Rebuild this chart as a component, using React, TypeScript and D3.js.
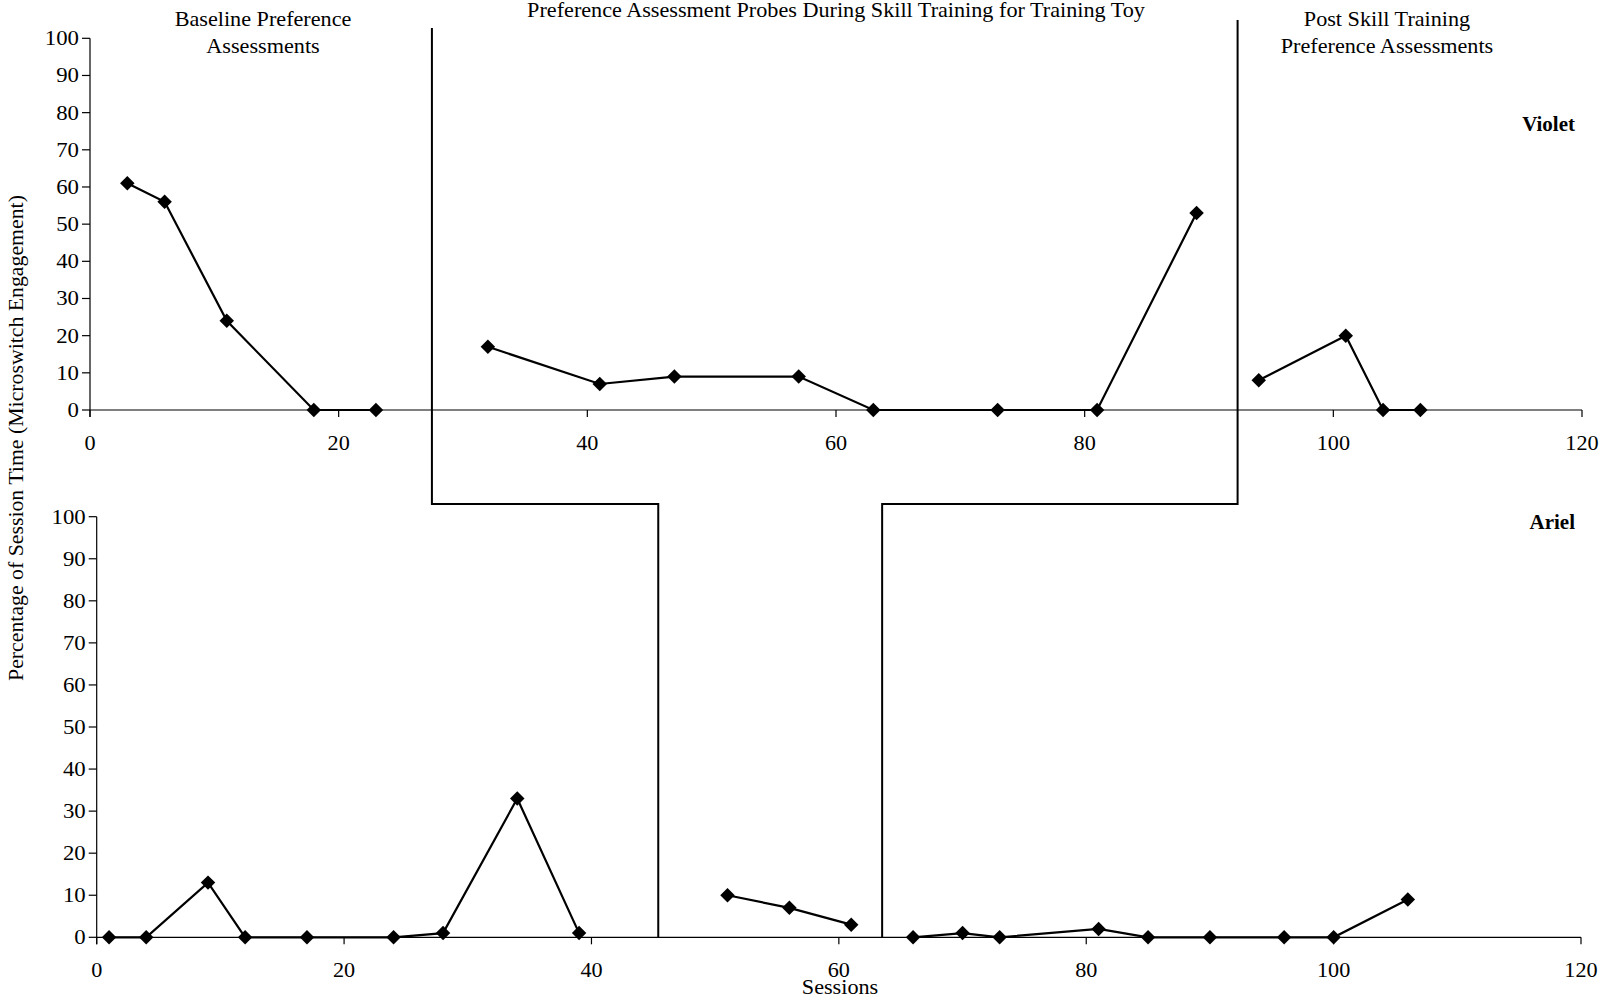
import React from "react";
import * as d3 from "d3";

// ---------- DATA ----------
const xTicks = [0, 20, 40, 60, 80, 100, 120];
const yTicks = [0, 10, 20, 30, 40, 50, 60, 70, 80, 90, 100];

// Violet (top panel)
const violetBaselineX = [3, 6, 11, 18, 23];
const violetBaselineY = [61, 56, 24, 0, 0];
const violetTrainingX = [32, 41, 47, 57, 63, 73, 81, 89];
const violetTrainingY = [17, 7, 9, 9, 0, 0, 0, 53];
const violetPostX = [94, 101, 104, 107];
const violetPostY = [8, 20, 0, 0];
const violetPhaseChanges = [27.5, 92.3];

// Ariel (bottom panel)
const arielBaselineX = [1, 4, 9, 12, 17, 24, 28, 34, 39];
const arielBaselineY = [0, 0, 13, 0, 0, 0, 1, 33, 1];
const arielTrainingX = [51, 56, 61];
const arielTrainingY = [10, 7, 3];
const arielPostX = [66, 70, 73, 81, 85, 90, 96, 100, 106];
const arielPostY = [0, 1, 0, 2, 0, 0, 0, 0, 9];
const arielPhaseChanges = [45.4, 63.5];

const phaseTitles = {
  baseline: ["Baseline Preference", "Assessments"],
  training: ["Preference Assessment Probes During Skill Training for Training Toy"],
  post: ["Post Skill Training", "Preference Assessments"],
};

// ---------- LAYOUT ----------
const W = 1600;
const H = 997;
const FONT = "'Liberation Serif', 'Times New Roman', serif";
const FS = 20;
const SX = 1.11;

const topX = d3.scaleLinear().domain([0, 120]).range([90, 1582]);
const topY = d3.scaleLinear().domain([0, 100]).range([410, 38.3]);
const botX = d3.scaleLinear().domain([0, 120]).range([96.7, 1581]);
const botY = d3.scaleLinear().domain([0, 100]).range([937.3, 516.7]);

const JUNCTION_Y = 504;
const PHASE_TOPS = [28, 20];

const zip = (xs: number[], ys: number[]) => xs.map((x, i) => [x, ys[i]] as [number, number]);

function Txt(props: {
  x: number; y: number; anchor?: string; bold?: boolean; rotate?: boolean; sx?: number; children: React.ReactNode;
}) {
  const { x, y, anchor = "middle", bold, rotate, sx = SX, children } = props;
  return (
    <text
      transform={`translate(${x},${y})${rotate ? " rotate(-90)" : ""} scale(${sx},1)`}
      textAnchor={anchor}
      fontFamily={FONT}
      fontSize={FS}
      fontWeight={bold ? "bold" : "normal"}
      fill="#000"
    >
      {children}
    </text>
  );
}

function Panel(props: {
  xs: d3.ScaleLinear<number, number>;
  ys: d3.ScaleLinear<number, number>;
  series: [number, number][][];
}) {
  const { xs, ys, series } = props;
  const line = d3.line<[number, number]>().x((d) => xs(d[0])).y((d) => ys(d[1]));
  const diamond = d3.symbol().type(d3.symbolSquare).size(105)() as string;
  const x0 = xs(0);
  const y0 = ys(0);
  return (
    <g>
      {/* y axis */}
      <line x1={x0} x2={x0} y1={ys(100)} y2={y0 + 7} stroke="#000" strokeWidth={1.2} />
      {yTicks.map((t) => (
        <g key={"y" + t}>
          <line x1={x0 - 8} x2={x0} y1={ys(t)} y2={ys(t)} stroke="#000" strokeWidth={1.2} />
          <Txt x={x0 - 11} y={ys(t) + 7} anchor="end" sx={1.14}>{t}</Txt>
        </g>
      ))}
      {/* x axis */}
      <line x1={x0} x2={xs(120)} y1={y0} y2={y0} stroke="#000" strokeWidth={1.2} />
      {xTicks.map((t) => (
        <line key={"x" + t} x1={xs(t)} x2={xs(t)} y1={y0} y2={y0 + 7} stroke="#000" strokeWidth={1.2} />
      ))}
      {series.map((s, i) => (
        <path key={"s" + i} d={line(s) || ""} fill="none" stroke="#000" strokeWidth={2.2} />
      ))}
      {series.flat().map((d, i) => (
        <path key={"m" + i} d={diamond} transform={`translate(${xs(d[0])},${ys(d[1])}) rotate(45)`} fill="#000" />
      ))}
    </g>
  );
}

export default function App() {
  const violetSeries = [
    zip(violetBaselineX, violetBaselineY),
    zip(violetTrainingX, violetTrainingY),
    zip(violetPostX, violetPostY),
  ];
  const arielSeries = [
    zip(arielBaselineX, arielBaselineY),
    zip(arielTrainingX, arielTrainingY),
    zip(arielPostX, arielPostY),
  ];

  // phase change lines (stepped across panels)
  const phasePaths = violetPhaseChanges.map((vx, i) => {
    const ax = arielPhaseChanges[i];
    return `M${topX(vx)},${PHASE_TOPS[i]} V${JUNCTION_Y} H${botX(ax)} V${botY(0)}`;
  });

  return (
    <svg width={W} height={H} style={{ position: "absolute", left: 0, top: 0, background: "#fff" }}>
      <rect width={W} height={H} fill="#fff" />
      <Panel xs={topX} ys={topY} series={violetSeries} />
      <Panel xs={botX} ys={botY} series={arielSeries} />
      {phasePaths.map((d, i) => (
        <path key={"p" + i} d={d} fill="none" stroke="#000" strokeWidth={2} />
      ))}

      {/* x tick labels */}
      {xTicks.map((t) => (
        <Txt key={"tx" + t} x={topX(t)} y={450}>{t}</Txt>
      ))}
      {xTicks.map((t) => (
        <Txt key={"bx" + t} x={botX(t)} y={977}>{t}</Txt>
      ))}

      {/* phase titles */}
      <Txt x={263} y={26}>{phaseTitles.baseline[0]}</Txt>
      <Txt x={263} y={53}>{phaseTitles.baseline[1]}</Txt>
      <Txt x={836} y={17}>{phaseTitles.training[0]}</Txt>
      <Txt x={1387} y={26}>{phaseTitles.post[0]}</Txt>
      <Txt x={1387} y={53}>{phaseTitles.post[1]}</Txt>

      {/* participant names */}
      <Txt x={1575} y={131} anchor="end" bold sx={1.05}>Violet</Txt>
      <Txt x={1575} y={529} anchor="end" bold sx={1.05}>Ariel</Txt>

      {/* axis titles */}
      <Txt x={23} y={438} rotate sx={1.09}>Percentage of Session Time (Microswitch Engagement)</Txt>
      <Txt x={840} y={994}>Sessions</Txt>
    </svg>
  );
}
